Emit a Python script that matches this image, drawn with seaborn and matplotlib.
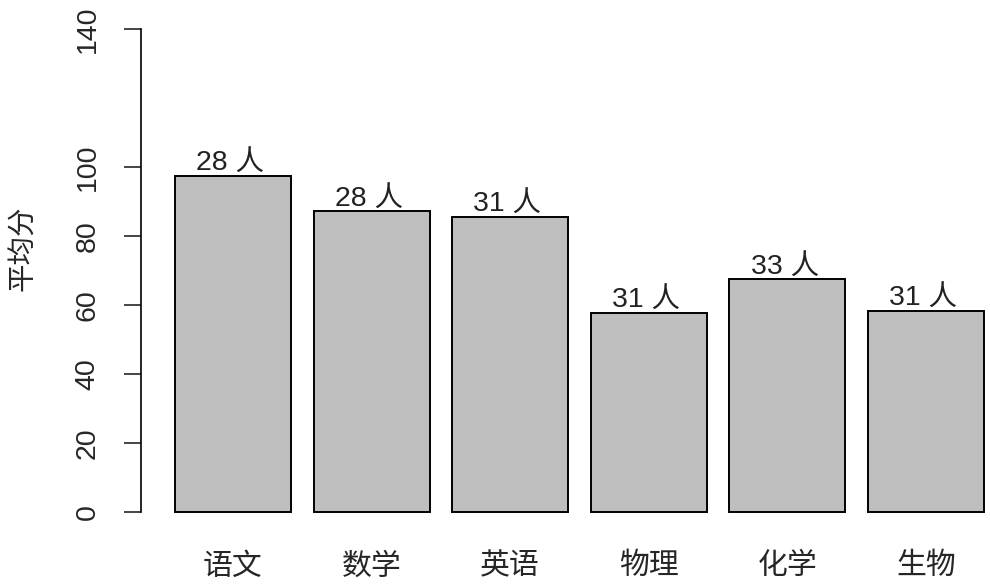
import matplotlib
matplotlib.use("Agg")
import matplotlib.pyplot as plt
import seaborn as sns
import pandas as pd

# data
subjects = ['语文', '数学', '英语', '物理', '化学', '生物']
avg_score = [97.3, 87.1, 85.5, 57.8, 67.4, 58.4]
n_students = [28, 28, 31, 31, 33, 31]
y_ticks = [0, 20, 40, 60, 80, 100, 140]

sns.set_style('white')
plt.rcParams['font.family'] = ['Liberation Sans', 'Noto Sans CJK SC']

df = pd.DataFrame({'subject': subjects, 'score': avg_score})

fig = plt.figure(figsize=(9.9, 5.85), dpi=100)
ax = fig.add_axes([141 / 990, 54 / 585, 849 / 990, 521 / 585])

sns.barplot(data=df, x='subject', y='score', color='#BEBEBE', saturation=1,
            edgecolor='black', linewidth=1.4, width=0.837, ax=ax)

# count labels on top of each bar
for i, (v, n) in enumerate(zip(avg_score, n_students)):
    ax.text(i - 0.02, v, f'{n} 人', ha='center', va='bottom', fontsize=20.5, color='#222222')

ax.set_xlim(-0.664, 5.462)
ax.set_ylim(-5.5, 145.5)
ax.set_yticks(y_ticks)
ax.set_yticklabels([str(t) for t in y_ticks], rotation=90, va='center', fontsize=20.5)

for s in ['top', 'right', 'bottom']:
    ax.spines[s].set_visible(False)
ax.spines['left'].set_bounds(0, 140)
ax.spines['left'].set_linewidth(1.2)
ax.spines['left'].set_color('black')
ax.tick_params(axis='y', length=12, width=1.2, pad=17, direction='out', left=True)
ax.tick_params(axis='x', length=0, pad=14)
for lab in ax.get_xticklabels():
    lab.set_fontsize(21.5)
    lab.set_family('Noto Sans CJK SC')

ax.set_xlabel('')
ax.set_ylabel('平均分', fontsize=20.5, family='Noto Sans CJK SC')
ax.yaxis.set_label_coords(-0.121, 0.543)

fig.savefig('out.png', dpi=100)
